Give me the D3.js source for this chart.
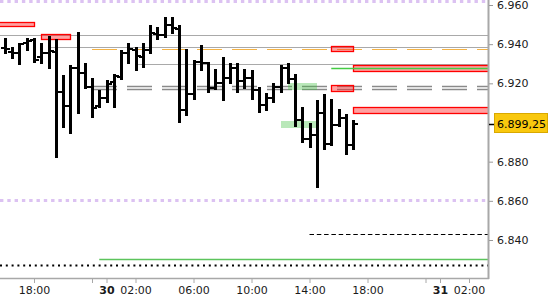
<!DOCTYPE html>
<html>
<head>
<meta charset="utf-8">
<script src="https://cdn.jsdelivr.net/npm/d3@7"></script>
<style>
  body { margin: 0; background: #fff; }
  svg { display: block; font-family: "DejaVu Sans", sans-serif; }
</style>
</head>
<body>
<div id="chart"></div>
<script>
// 30 minute bars, day + time
const barTimes = ["29 16:00","29 16:30","29 17:00","29 17:30","29 18:00","29 18:30","29 19:00","29 19:30","29 20:00","29 20:30","29 21:00","29 21:30",
  "29 23:00","29 23:30","30 00:00","30 00:30","30 01:00","30 01:30","30 02:00","30 02:30","30 03:00","30 03:30","30 04:00","30 04:30",
  "30 05:00","30 05:30","30 06:00","30 06:30","30 07:00","30 07:30","30 08:00","30 08:30","30 09:00","30 09:30","30 10:00","30 10:30",
  "30 11:00","30 11:30","30 12:00","30 12:30","30 13:00","30 13:30","30 14:00","30 14:30","30 15:00","30 15:30","30 16:00","30 16:30","30 17:00"]
const opens = [6938, 6936, 6935.5, 6940.5, 6942, 6933.5, 6935.25, 6936, 6915.5, 6908.5, 6927.75, 6925.25,
  6918, 6908.25, 6912.5, 6920.75, 6923.25, 6935.25, 6937, 6933.5, 6937, 6945.25, 6944.75, 6949.75,
  6947.5, 6906.5, 6914.5, 6931, 6930.5, 6917.5, 6920, 6922.5, 6927.75, 6921.25, 6922.5, 6916.5,
  6909, 6912.5, 6918.25, 6927.75, 6922, 6901.25, 6891.5, 6893.5, 6904.75, 6889, 6898.75, 6902.5, 6888.5]
const highs = [6943, 6938.5, 6940.5, 6943, 6943, 6940.5, 6944.25, 6942.5, 6924.25, 6929.5, 6946, 6930.25,
  6922.5, 6916.5, 6921.75, 6925, 6937, 6940.5, 6938.75, 6940.5, 6949.75, 6949, 6953.75, 6953.75,
  6949.75, 6937.75, 6932, 6939.5, 6931, 6927.25, 6933.25, 6930.25, 6930.25, 6927.25, 6926.75, 6918,
  6915, 6920.25, 6929.5, 6930.5, 6925, 6908, 6899.75, 6911.5, 6914.5, 6912.25, 6907, 6904.25, 6901.5]
const lows = [6935.25, 6932.75, 6929.75, 6937, 6931, 6930.25, 6927.75, 6882.25, 6897.75, 6894.75, 6905, 6917.75,
  6902.75, 6908, 6910.5, 6908, 6922, 6930.25, 6926.75, 6928.5, 6935.25, 6942.5, 6943.75, 6945.5,
  6900.5, 6903.75, 6911.75, 6926.75, 6915.75, 6917, 6911.5, 6920.25, 6915.75, 6917.5, 6911.75, 6905.5,
  6906.5, 6910.5, 6915.75, 6920.25, 6898, 6890.25, 6887.5, 6867.25, 6886.25, 6888.5, 6898.25, 6883.75, 6886.25]
const closes = [6937.75, 6935.5, 6940, 6941.5, 6932, 6935.25, 6936.5, 6915.5, 6908.5, 6927.75, 6925.25, 6918.25,
  6907.25, 6912.5, 6919.75, 6923.75, 6935.25, 6937.75, 6934, 6937, 6945.5, 6944.75, 6949.75, 6948,
  6906.5, 6914.75, 6931, 6930.5, 6917.5, 6920, 6922.5, 6927.75, 6921.25, 6922.5, 6916.5, 6909,
  6912.75, 6918.25, 6927.75, 6922, 6901.25, 6891.5, 6893.5, 6904.75, 6889, 6898.75, 6902.5, 6888.5, 6899.25]
const lastPrice = 6899.25

// session closes 22:00 - 23:00
const sessionBreaks = ["29 22:00", "30 22:00"]

// axis ticks
const yTickValues = [6960, 6940, 6920, 6880, 6860, 6840]
const xTickTimes = ["29 18:00", "29 22:00", "30 00:00", "30 02:00", "30 06:00", "30 10:00", "30 14:00", "30 18:00", "30 22:00", "31 00:00", "31 02:00"]
const xTickLabels = ["18:00", "", "30", "02:00", "06:00", "10:00", "14:00", "18:00", "", "31", "02:00"]

// horizontal levels
const graySolidLevels = [6944.75, 6938.5, 6930]
const graySolidStarts = ["29 14:00", "29 19:00", "30 02:00"]
const grayDashLevels = [6918.75, 6917]
const grayDashStart = "29 23:00"
const orangeLevel = 6937.5
const orangeStart = "29 23:00"
const greenLevel = 6927.75
const greenStart = "30 15:30"
const greenLowLevel = 6830.25
const greenLowStart = "29 23:30"
const blackDashLevel = 6843
const blackDashStart = "30 14:00"
const blackDotLevel = 6827.25
const lilacLevels = [6962, 6860.25]

// zones
const redZoneStarts = ["29 14:00", "29 18:30", "30 15:30", "30 15:30", "30 17:00", "30 17:00"]
const redZoneEnds = ["29 18:00", "29 20:30", "30 17:00", "30 17:00", "31 06:00", "31 06:00"]
const redZoneTops = [6951.5, 6945.25, 6939, 6919, 6929.5, 6908]
const redZoneBottoms = [6949.5, 6942.75, 6936.75, 6916.25, 6926.5, 6905]
const greenZoneStarts = ["30 12:30", "30 12:00"]
const greenZoneEnds = ["30 14:30", "30 14:30"]
const greenZoneTops = [6920.25, 6901]
const greenZoneBottoms = [6916.5, 6897.25]

const width = 550, height = 300
const plotW = 488, plotH = 278

// raw hours since 29 18:00
function rawT(s) {
    const [d, hm] = s.split(" ")
    const [h, m] = hm.split(":").map(Number)
    return (+d - 29) * 24 + h + m / 60 - 18
}
// same, with the closed hour taken out
function sessionT(s) {
    const raw = rawT(s)
    let t = raw
    sessionBreaks.forEach(function (b) {
        const c = rawT(b)
        if (raw >= c + 1) t -= 1
        else if (raw > c) t -= (raw - c)
    })
    return t
}

const fmtLocale = d3.formatLocale({ decimal: ",", thousands: ".", grouping: [3], currency: ["", ""] })
const tickFmt = fmtLocale.format(",.3~f")

let svg = d3.select("#chart").append("svg")
    .attr("width", width)
    .attr("height", height)

let xScale = d3.scaleLinear()
    .domain([-34 / 14.5, (plotW - 34) / 14.5])
    .range([0, plotW])

let yScale = d3.scaleLinear()
    .domain([6840, 6960])
    .range([240, 5])

const px = function (s) { return xScale(sessionT(s)) }

svg.append("clipPath").attr("id", "plotclip")
    .append("rect").attr("x", 0).attr("y", 0).attr("width", plotW).attr("height", plotH)

let plot = svg.append("g").attr("clip-path", "url(#plotclip)")

// level lines
function level(v, x0, color, w, dash) {
    const y = Math.round(yScale(v)) + 0.5
    plot.append("line")
        .attr("x1", x0).attr("x2", plotW)
        .attr("y1", y).attr("y2", y)
        .attr("stroke", color)
        .attr("stroke-width", w)
        .attr("stroke-dasharray", dash)
}

lilacLevels.forEach(function (v) { level(v, 0, "#dcc2f2", 3, "3.4,3.9") })
graySolidLevels.forEach(function (v, i) { level(v, Math.max(0, px(graySolidStarts[i])), "#a9a9a9", 1, null) })
grayDashLevels.forEach(function (v) { level(v, px(grayDashStart), "#8a8a8a", 1.3, "25,10") })
level(orangeLevel, px(orangeStart), "#f5b344", 1.2, "25,10")
level(greenLowLevel, px(greenLowStart), "#5cc45c", 1.3, null)
level(blackDashLevel, px(blackDashStart), "#000", 1, "4.5,2.8")
level(blackDotLevel, 0, "#000", 2, "2,3.8")

// zones
redZoneStarts.forEach(function (s, i) {
    const x0 = Math.round(px(s)), x1 = Math.round(px(redZoneEnds[i]))
    const y0 = Math.round(yScale(redZoneTops[i])), y1 = Math.round(yScale(redZoneBottoms[i]))
    plot.append("rect")
        .attr("x", x0 + 0.5).attr("y", y0 + 0.5)
        .attr("width", x1 - x0).attr("height", y1 - y0)
        .attr("fill", "#ff2020").attr("fill-opacity", 0.42)
        .attr("stroke", "#ff0000").attr("stroke-width", 1.3)
})
greenZoneStarts.forEach(function (s, i) {
    const x0 = Math.round(px(s)), x1 = Math.round(px(greenZoneEnds[i]))
    const y0 = Math.round(yScale(greenZoneTops[i])), y1 = Math.round(yScale(greenZoneBottoms[i]))
    plot.append("rect")
        .attr("x", x0).attr("y", y0)
        .attr("width", x1 - x0).attr("height", y1 - y0)
        .attr("fill", "#3cbf3c").attr("fill-opacity", 0.36)
})

level(greenLevel, px(greenStart), "#44cc44", 1.3, null)

// OHLC bars, snapped to whole pixels
const bx = function (d) { return Math.round(px(d)) }
let bars = plot.append("g").selectAll("g")
    .data(barTimes).enter()
    .append("g")
    .attr("fill", "#000")
    .attr("shape-rendering", "crispEdges")

bars.append("rect")
    .attr("x", function (d) { return bx(d) - 1 })
    .attr("width", 3)
    .attr("y", function (d, i) { return Math.round(yScale(highs[i])) })
    .attr("height", function (d, i) { return Math.round(yScale(lows[i])) - Math.round(yScale(highs[i])) + 1 })
bars.append("rect")
    .attr("x", function (d) { return bx(d) - 4 })
    .attr("width", 3)
    .attr("y", function (d, i) { return Math.round(yScale(opens[i])) - 1 })
    .attr("height", 2)
bars.append("rect")
    .attr("x", function (d) { return bx(d) + 2 })
    .attr("width", 3)
    .attr("y", function (d, i) { return Math.round(yScale(closes[i])) - 1 })
    .attr("height", 2)

// axis frame
svg.append("line")
    .attr("x1", plotW + 0.5).attr("x2", plotW + 0.5)
    .attr("y1", 0).attr("y2", plotH + 1)
    .attr("stroke", "#a8a8a8").attr("stroke-width", 2)
svg.append("line")
    .attr("x1", 0).attr("x2", plotW + 1)
    .attr("y1", plotH + 0.5).attr("y2", plotH + 0.5)
    .attr("stroke", "#a8a8a8").attr("stroke-width", 1.5)

// y axis
let yAxis = d3.axisRight(yScale)
    .tickValues(yTickValues)
    .tickSize(4)
    .tickPadding(4)
    .tickFormat(tickFmt)
let gy = svg.append("g")
    .attr("transform", `translate(${plotW + 1},0)`)
    .call(yAxis)
gy.select(".domain").remove()
gy.selectAll(".tick line").attr("stroke", "#999")
gy.selectAll(".tick text")
    .style("font-family", "DejaVu Sans")
    .style("font-size", "11px")
    .attr("fill", "#1a1a1a")

// last price marker
const yl = Math.round(yScale(lastPrice))
svg.append("line")
    .attr("x1", plotW + 1).attr("x2", plotW + 6)
    .attr("y1", yl + 0.5).attr("y2", yl + 0.5)
    .attr("stroke", "#000").attr("stroke-width", 1.5)
svg.append("rect")
    .attr("x", 494.5).attr("y", yl - 10.5)
    .attr("width", 53).attr("height", 19)
    .attr("fill", "#f9c80e")
    .attr("stroke", "#d9a800")
svg.append("text")
    .attr("x", 497).attr("y", yl)
    .attr("dy", "0.35em")
    .style("font-size", "11px")
    .attr("fill", "#000")
    .text(fmtLocale.format(",.2f")(lastPrice))

// x axis
let xAxis = d3.axisBottom(xScale)
    .tickValues(xTickTimes.map(sessionT))
    .tickSize(4)
    .tickPadding(3)
    .tickFormat(function (d, i) { return xTickLabels[i] })
let gx = svg.append("g")
    .attr("transform", `translate(0,${plotH + 1})`)
    .call(xAxis)
gx.select(".domain").remove()
gx.selectAll(".tick line").attr("stroke", "#a8a8a8")
gx.selectAll(".tick text")
    .style("font-family", "DejaVu Sans")
    .style("font-size", "11px")
    .attr("fill", "#1a1a1a")
    .style("font-weight", function (d, i) { return xTickLabels[i].length == 2 ? "bold" : "normal" })
</script>
</body>
</html>
